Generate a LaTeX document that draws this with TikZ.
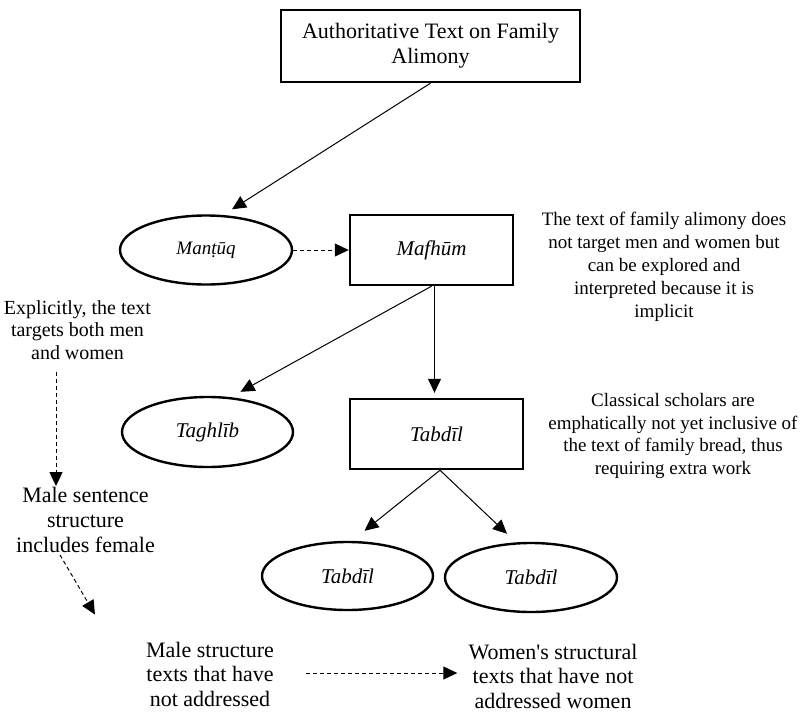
\documentclass[tikz,border=0pt]{standalone}
\usepackage{fontspec}
\setmainfont{Liberation Serif}
\usetikzlibrary{arrows.meta}
\usetikzlibrary{calc}
\usetikzlibrary{shapes.geometric}
\newcommand\fs[2]{\fontsize{#1}{#2}\selectfont}
\tikzstyle{frame}=[draw,rectangle,line width=2.4pt,inner sep=0pt,align=center]
\tikzstyle{oval} =[draw,ellipse,line width=2.4pt,inner sep=0pt,font=\fs{21}{24}\itshape]
\tikzstyle{remark}=[align=center,inner sep=1pt]
\tikzstyle{flow}=[line width=1pt,-{Triangle[length=14pt,width=13pt]}]
\tikzstyle{hint}=[flow,dash pattern=on 4pt off 3pt]

\begin{document}
\begin{tikzpicture}[x=1pt,y=-1pt]
	\useasboundingbox (0,0) rectangle (801,713);
	\node[frame,minimum width=299pt,minimum height=72pt,font=\fs{22}{25}] (text) at (430.5,46) {Authoritative Text on Family\\Alimony};
	\node[oval,minimum width=172pt,minimum height=69pt,font=\fs{19}{22}\itshape] (mantuq) at (206,250) {Manṭūq};
	\node[frame,minimum width=163pt,minimum height=70pt,font=\fs{21}{24}\itshape] (mafhum) at (431.5,250) {Mafhūm};
	\node[oval,minimum width=171pt,minimum height=70pt] (taghlib) at (207.5,432) {Taghlīb};
	\node[frame,minimum width=173pt,minimum height=70pt,font=\fs{21}{24}\itshape] (tabdil) at (436.5,434) {Tabdīl};
	\node[oval,minimum width=171pt,minimum height=68pt] (tabdilL) at (347.5,576) {Tabdīl};
	\node[oval,minimum width=172pt,minimum height=69pt] (tabdilR) at (531,577.5) {Tabdīl};
	%
	\node[remark,font=\fs{20}{22.5}] (explicit) at (77.5,330) {Explicitly, the text\\targets both men\\and women};
	\node[remark,font=\fs{22}{25}] (malesent) at (85.5,520) {Male sentence\\structure\\includes female};
	\node[remark,font=\fs{22}{24.5}] (malestruct) at (210,674) {Male structure\\texts that have\\not addressed};
	\node[remark,font=\fs{22}{24.5}] (women) at (553,676) {Women\textquotesingle s structural\\texts that have not\\addressed women};
	\node[remark,font=\fs{19}{23}] (implicit) at (664,266.5) {The text of family alimony does\\not target men and women but\\can be explored and\\interpreted because it is\\implicit};
	\node[remark,font=\fs{19}{22.5}] (classical) at (673,436) {Classical scholars are\\emphatically not yet inclusive of\\the text of family bread, thus\\requiring extra work};
%
	\draw[flow] (text.south) -- ($(mantuq.north)+(26,-5)$);
	\draw[hint] (mantuq.east) -- (mafhum.west);
	\draw[flow] (mafhum.south) -- ($(taghlib.north)+(33,-4)$);
	\draw[flow] ($(mafhum.south)+(3,0)$) -- ($(tabdil.north)+(-2,-5)$);
	\draw[flow] ($(tabdil.south)+(3.5,0)$) -- ($(tabdilL.north)+(17,-10)$);
	\draw[flow] ($(tabdil.south)+(3.5,0)$) -- ($(tabdilR.north)+(-24,-8)$);
	\draw[hint] ($(explicit.south)+(-21.5,11)$) -- ($(malesent.north)+(-29.5,0)$);
	\draw[hint] ($(malesent.south)+(-25.5,1)$) -- ($(malestruct.north west)+(-50,-26)$);
	\draw[hint] ($(malestruct.east)+(31,-1)$) -- ($(women.west)+(-10,-3)$);
\end{tikzpicture}
\end{document}
